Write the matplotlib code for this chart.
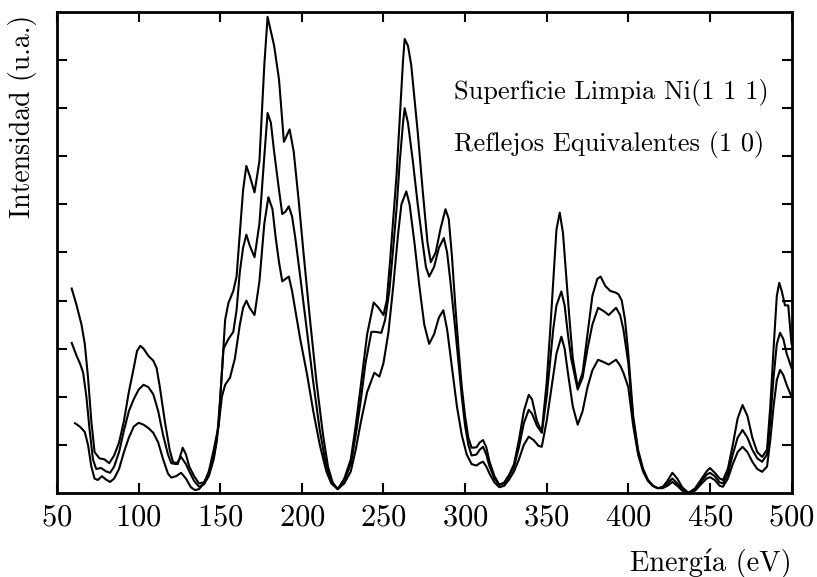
# -*- coding: utf-8 -*-
"""
LEED I-V curves, Ni(111) clean surface, equivalent (1 0) beams
"""

import numpy as np
import matplotlib
matplotlib.use("Agg")
import matplotlib.pyplot as plt

plt.rcParams['font.family'] = ['cmr10', 'DejaVu Serif']
plt.rcParams['mathtext.fontset'] = 'cm'
plt.rcParams['axes.unicode_minus'] = False
plt.rcParams['axes.formatter.use_mathtext'] = True

# (energy eV, intensity a.u.)
curve_top = [
    (59, 4.25), (62, 3.9), (65, 3.5), (67, 3.1), (69, 2.4), (71, 1.5), (73, 0.85),
    (76, 0.72), (79, 0.7), (82, 0.62), (85, 0.78), (88, 1.05), (91, 1.5), (94, 2.1),
    (97, 2.6), (99, 2.95), (101, 3.06), (103, 3.0), (106, 2.85), (109, 2.75), (111, 2.6),
    (113, 2.2), (116, 1.5), (119, 0.9), (121, 0.65), (124, 0.6), (127, 0.94), (129, 0.8),
    (131, 0.55), (134, 0.35), (137, 0.2), (140, 0.22), (143, 0.4), (146, 0.75), (149, 1.4),
    (151, 2.5), (153, 3.6), (155, 3.95), (158, 4.2), (160, 4.5), (162, 5.4), (164, 6.3),
    (166, 6.8), (168, 6.6), (171, 6.25), (174, 6.9), (177, 8.9), (179, 9.9), (181, 9.6),
    (183, 9.3), (186, 8.6), (189, 7.3), (191, 7.45), (192.5, 7.56), (195, 7.1), (198, 6.1),
    (201, 5.0), (205, 3.6), (209, 2.3), (213, 1.2), (216, 0.55), (219, 0.2), (222, 0.08),
    (226, 0.3), (230, 0.7), (233, 1.4), (236, 2.2), (240, 3.3), (244, 3.96), (247, 3.85),
    (250, 3.7), (252, 4.0), (254, 4.8), (256, 5.7), (258, 6.6), (260, 7.8), (262, 9.0),
    (263, 9.44), (265, 9.3), (267, 8.9), (269, 8.2), (271, 7.5), (274, 6.3), (277, 5.2),
    (279, 4.8), (282, 5.0), (285, 5.5), (288, 5.9), (290, 5.7), (292, 4.9), (294, 3.9),
    (296, 3.0), (298, 2.2), (300, 1.6), (302, 1.15), (304, 0.94), (307, 0.95), (309, 1.05),
    (311, 1.1), (313, 0.95), (315, 0.65), (318, 0.35), (321, 0.17), (324, 0.22), (327, 0.38),
    (330, 0.6), (333, 1.1), (336, 1.7), (339, 2.04), (341, 1.95), (344, 1.5), (347, 1.27),
    (350, 2.3), (352, 3.3), (354, 4.4), (356, 5.48), (358, 5.83), (360, 5.4), (362, 4.5),
    (364, 3.6), (366, 2.8), (369, 2.2), (372, 2.5), (375, 3.3), (378, 4.1), (381, 4.45),
    (383, 4.5), (386, 4.3), (389, 4.2), (392, 4.17), (394, 4.13), (396, 4.0), (398, 3.6),
    (400, 2.9), (403, 1.6), (406, 0.9), (409, 0.5), (412, 0.27), (415, 0.15), (418, 0.1),
    (421, 0.12), (424, 0.25), (427, 0.42), (430, 0.3), (433, 0.12), (437, 0.0), (441, 0.1),
    (445, 0.3), (448, 0.45), (450, 0.52), (453, 0.42), (456, 0.3), (458, 0.27), (461, 0.5),
    (464, 1.0), (467, 1.55), (470, 1.83), (473, 1.6), (476, 1.15), (479, 0.85), (482, 0.75),
    (485, 0.9), (487, 1.8), (489, 3.0), (491, 4.1), (492.5, 4.37), (494, 4.2), (496, 3.9),
    (498, 3.9), (500, 3.1),
]

curve_mid = [
    (59, 3.12), (62, 2.85), (64, 2.7), (66, 2.5), (68, 2.0), (70, 1.3), (72, 0.7),
    (74, 0.5), (77, 0.52), (80, 0.45), (82.5, 0.42), (85, 0.55), (88, 0.85), (91, 1.3),
    (94, 1.7), (97, 1.95), (100, 2.15), (103, 2.25), (106, 2.2), (109, 2.05), (112, 1.7),
    (115, 1.2), (118, 0.8), (120, 0.62), (123, 0.6), (126, 0.75), (129, 0.6), (131, 0.45),
    (134, 0.25), (137, 0.13), (140, 0.18), (143, 0.35), (146, 0.7), (148, 1.1), (150, 2.0),
    (152, 3.0), (155, 3.2), (158, 3.35), (160, 3.8), (162, 4.6), (164, 5.1), (166, 5.37),
    (168, 5.15), (171, 4.9), (174, 5.6), (177, 7.0), (179, 7.9), (181, 7.7), (183, 7.1),
    (186, 6.3), (188, 5.8), (190, 5.85), (192, 5.96), (194, 5.75), (196, 5.3), (199, 4.5),
    (203, 3.4), (207, 2.3), (211, 1.3), (215, 0.55), (218, 0.25), (222, 0.08),
    (226, 0.25), (230, 0.6), (233, 1.2), (236, 1.9), (239, 2.7), (242.6, 3.35), (245, 3.35),
    (248.7, 3.33), (251, 3.6), (253.6, 4.2), (256, 5.1), (258, 5.9), (260, 6.9), (262, 7.7),
    (263, 8.0), (265, 7.7), (268, 6.9), (271, 6.0), (274, 5.2), (276, 4.7), (278, 4.5),
    (281, 4.7), (284, 5.1), (287, 5.3), (289, 5.0), (291, 4.4), (294, 3.4), (296, 2.7),
    (298, 2.0), (300, 1.4), (302, 1.0), (304, 0.78), (307, 0.8), (309, 0.9), (311, 0.96),
    (313, 0.8), (315, 0.55), (318, 0.3), (321, 0.17), (324, 0.2), (327, 0.35), (330, 0.55),
    (333, 0.95), (336, 1.45), (339, 1.73), (341, 1.65), (344, 1.4), (347, 1.25), (350, 2.0),
    (352, 2.7), (354, 3.4), (356, 3.9), (359, 4.19), (361, 3.9), (363, 3.3), (365, 2.8),
    (369, 2.15), (372, 2.4), (375, 3.0), (378, 3.5), (381.5, 3.85), (385, 3.78), (388, 3.7),
    (392.5, 3.85), (395, 3.7), (397, 3.4), (400, 2.7), (403, 1.5), (406, 0.85), (409, 0.5),
    (412, 0.27), (415, 0.15), (418, 0.1), (421, 0.12), (424, 0.2), (427, 0.3), (430, 0.2),
    (433, 0.08), (437, 0.0), (441, 0.08), (445, 0.25), (448, 0.38), (450, 0.42), (453, 0.35),
    (456, 0.22), (458, 0.2), (461, 0.4), (464, 0.8), (467, 1.15), (470, 1.31), (473, 1.15),
    (476, 0.9), (479, 0.72), (482, 0.65), (485, 0.8), (487, 1.5), (489, 2.4), (491, 3.1),
    (493, 3.33), (495, 3.2), (497, 2.9), (500, 2.6),
]

curve_low = [
    (61, 1.45), (64, 1.38), (67, 1.27), (69, 1.0), (71, 0.55), (73, 0.3), (75, 0.27),
    (77.5, 0.35), (80, 0.28), (82.5, 0.23), (85, 0.3), (88, 0.5), (91, 0.85), (94, 1.15),
    (97, 1.38), (100, 1.46), (103, 1.42), (106, 1.35), (109, 1.25), (112, 1.05), (115, 0.7),
    (118, 0.4), (120, 0.32), (123, 0.35), (126, 0.42), (129, 0.3), (132, 0.12), (134.5, 0.06),
    (137, 0.08), (140, 0.2), (143, 0.45), (146, 0.9), (149, 1.4), (151, 2.0), (153, 2.25),
    (156, 2.4), (159, 2.8), (162, 3.5), (164, 3.85), (166, 4.0), (168, 3.85), (171, 3.7),
    (174, 4.4), (177, 5.6), (179.5, 6.15), (182, 5.9), (184, 5.3), (186, 4.8), (188, 4.4),
    (190, 4.45), (192, 4.5), (194, 4.2), (196, 3.8), (199, 3.2), (203, 2.5), (207, 1.7),
    (211, 1.0), (215, 0.45), (218, 0.2), (222, 0.08),
    (226, 0.2), (230, 0.45), (233, 0.9), (236, 1.45), (240, 2.1), (244.4, 2.5), (247.5, 2.42),
    (250, 2.7), (253, 3.33), (256, 4.3), (259, 5.4), (261, 6.0), (264, 6.27), (266, 6.0),
    (269, 5.2), (272, 4.3), (275, 3.5), (278, 3.1), (281, 3.3), (284, 3.65), (286.7, 3.8),
    (289, 3.4), (292, 2.6), (295, 1.8), (298, 1.2), (301, 0.8), (304, 0.6), (307, 0.57),
    (309, 0.62), (311, 0.65), (313, 0.55), (315, 0.4), (318, 0.22), (321, 0.12), (324, 0.15),
    (327, 0.28), (330, 0.45), (333, 0.7), (336, 1.0), (339, 1.17), (342, 1.1), (345, 0.98),
    (347, 0.96), (350, 1.5), (353, 2.2), (356, 2.9), (359, 3.25), (361, 3.0), (363, 2.5),
    (366, 1.8), (369, 1.42), (372, 1.7), (375, 2.2), (378, 2.55), (381.5, 2.77), (385, 2.72),
    (388, 2.67), (392.5, 2.77), (395, 2.65), (397, 2.5), (400, 2.2), (403, 1.4), (406, 0.8),
    (409, 0.45), (412, 0.25), (415, 0.15), (418, 0.1), (421, 0.1), (424, 0.15), (427, 0.23),
    (430, 0.15), (433, 0.05), (437, 0.0), (441, 0.05), (445, 0.2), (448, 0.3), (450, 0.33),
    (453, 0.27), (456, 0.15), (458, 0.13), (461, 0.3), (464, 0.6), (467, 0.85), (470, 0.96),
    (473, 0.85), (476, 0.65), (479, 0.5), (482, 0.44), (485, 0.55), (487, 1.1), (489, 1.8),
    (491, 2.35), (493, 2.56), (495, 2.45), (497, 2.25), (500, 2.0),
]

x_ticks = [50, 100, 150, 200, 250, 300, 350, 400, 450, 500]
y_ticks = [1, 2, 3, 4, 5, 6, 7, 8, 9]
legend_lines = ['Superficie Limpia Ni(1 1 1)', 'Reflejos Equivalentes (1 0)']

fig = plt.figure(figsize=(8.17, 5.77), dpi=100)
ax = fig.add_axes([0.0698, 0.1456, 0.899, 0.8336])

for curve in (curve_top, curve_mid, curve_low):
    e, inten = np.array(curve).T
    ax.plot(e, inten, color='black', lw=1.5, solid_joinstyle='round')

ax.set_xlim(50, 500)
ax.set_ylim(0, 10)
ax.set_xticks(x_ticks)
ax.set_yticks(y_ticks)
ax.set_yticklabels([])
ax.tick_params(direction='in', length=7, width=1.5, top=True, right=True,
               labelsize=22, pad=8)
for s in ax.spines.values():
    s.set_linewidth(2)

# two-line caption inside the plot
ax.text(293, 8.33, legend_lines[0], fontsize=19, ha='left', va='center')
ax.text(293, 7.25, legend_lines[1], fontsize=19, ha='left', va='center')

ax.set_xlabel('Energía (eV)', fontsize=20.5, loc='right')
ax.xaxis.set_label_coords(1.0, -0.115)
ax.set_ylabel('Intensidad (u.a.)', fontsize=20, loc='top')
ax.yaxis.set_label_coords(-0.027, 0.995)

fig.savefig('out.png', dpi=100)
